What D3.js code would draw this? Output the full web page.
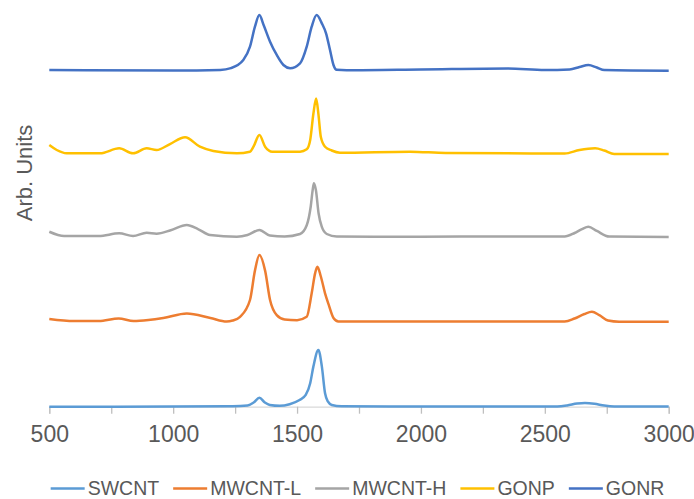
<!DOCTYPE html>
<html>
<head>
<meta charset="utf-8">
<script src="https://cdn.jsdelivr.net/npm/d3@7"></script>
<style>
  body { margin: 0; background: #fff; }
  text { font-family: "Liberation Sans", Arial, sans-serif; fill: #595959; }
</style>
</head>
<body>
<svg id="chart" width="694" height="499"></svg>
<script>
// raman spectra, [wavenumber, intensity] (intensity in arb. units)
const swcnt = [[500,0],[1000,0.002],[1240,0.005],[1300,0.015],[1325,0.05],[1348,0.107],[1370,0.05],[1390,0.02],[1430,0.01],
  [1470,0.03],[1510,0.08],[1535,0.14],[1553,0.28],[1566,0.48],[1586,0.675],[1600,0.48],[1613,0.16],[1625,0.06],[1640,0.02],
  [1680,0.005],[2000,0.002],[2550,0.002],[2590,0.014],[2630,0.037],[2662,0.045],[2700,0.036],[2740,0.013],[2780,0.002],[3000,0.002]];

const mwcntL = [[500,0.044],[600,0.02],[700,0.02],[780,0.05],[840,0.02],[900,0.032],[960,0.056],[1055,0.11],[1150,0.056],
  [1216,0.014],[1240,0.026],[1270,0.07],[1310,0.27],[1330,0.62],[1348,0.806],[1371,0.62],[1391,0.27],[1418,0.09],[1450,0.038],
  [1500,0.03],[1539,0.07],[1559,0.35],[1573,0.59],[1582,0.667],[1596,0.55],[1613,0.35],[1627,0.22],[1647,0.056],[1667,0.014],
  [2000,0.014],[2300,0.014],[2580,0.014],[2620,0.05],[2660,0.104],[2690,0.13],[2720,0.09],[2755,0.026],[2800,0.012],[3000,0.012]];

const mwcntH = [[500,0.083],[560,0.032],[700,0.032],[782,0.064],[838,0.032],[893,0.071],[933,0.06],[990,0.1],[1055,0.163],
  [1100,0.115],[1149,0.044],[1257,0.024],[1300,0.044],[1348,0.104],[1390,0.038],[1450,0.026],[1512,0.056],[1539,0.16],
  [1555,0.38],[1563,0.58],[1568,0.66],[1576,0.58],[1587,0.3],[1600,0.14],[1620,0.056],[1660,0.026],[2000,0.024],[2326,0.026],
  [2580,0.026],[2620,0.068],[2650,0.115],[2676,0.143],[2710,0.092],[2760,0.026],[3000,0.02]];

const gonp = [[500,0.115],[530,0.056],[570,0.017],[705,0.017],[782,0.076],[838,0.017],[893,0.076],[933,0.056],[987,0.127],
  [1048,0.207],[1108,0.095],[1162,0.044],[1257,0.017],[1310,0.036],[1324,0.095],[1348,0.235],[1371,0.095],[1400,0.036],
  [1512,0.036],[1539,0.064],[1553,0.175],[1566,0.49],[1577,0.67],[1586,0.49],[1596,0.21],[1613,0.095],[1640,0.05],
  [1673,0.024],[1956,0.036],[2100,0.02],[2580,0.014],[2640,0.056],[2703,0.076],[2740,0.05],[2780,0.008],[3000,0.008]];

const gonr = [[500,0.008],[1000,0.002],[1190,0.008],[1233,0.03],[1283,0.127],[1310,0.286],[1330,0.524],[1348,0.663],
  [1365,0.544],[1391,0.345],[1418,0.187],[1445,0.068],[1472,0.03],[1512,0.088],[1539,0.286],[1559,0.524],[1579,0.663],
  [1600,0.564],[1617,0.445],[1633,0.246],[1647,0.068],[1660,0.01],[1700,0.005],[2000,0.014],[2350,0.026],[2500,0.008],
  [2600,0.014],[2640,0.044],[2676,0.068],[2710,0.038],[2740,0.008],[3000,0.0]];

const seriesNames = ["SWCNT", "MWCNT-L", "MWCNT-H", "GONP", "GONR"];
const seriesData = [swcnt, mwcntL, mwcntH, gonp, gonr];
const offsets = [0, 1, 2, 3, 4];
const colors = ["#5B9BD5", "#ED7D31", "#A5A5A5", "#FFC000", "#4472C4"];
const xTicks = [500, 750, 1000, 1250, 1500, 1750, 2000, 2250, 2500, 2750, 3000];
const yTitle = "Arb. Units";

const svg = d3.select("#chart");
const x = d3.scaleLinear().domain([500, 3000]).range([49.3, 668.7]);
const y = d3.scaleLinear().domain([0, 5]).range([406.7, -13.3]);

// x axis (labels every 500)
let xAxis = svg.append("g")
  .attr("transform", "translate(0," + y(0) + ")")
  .call(d3.axisBottom(x).tickValues(xTicks).tickSizeOuter(0).tickSize(7)
    .tickFormat(d => d % 500 === 0 ? d : ""));
xAxis.select(".domain").attr("stroke", "#D9D9D9").attr("stroke-width", 1.3);
xAxis.selectAll(".tick line").attr("stroke", "#BFBFBF").attr("stroke-width", 1.3);
xAxis.selectAll(".tick text")
  .attr("fill", "#595959")
  .attr("y", 19)
  .style("font-size", "23px")
  .style("font-family", "\"Liberation Sans\", Arial, sans-serif");

// y title
svg.append("text")
  .attr("transform", "translate(32,173) rotate(-90)")
  .attr("text-anchor", "middle")
  .style("font-size", "22px")
  .text(yTitle);

// series
let line = d3.line().curve(d3.curveMonotoneX);
seriesData.forEach(function(data, i){
  svg.append("path")
    .datum(data)
    .attr("fill", "none")
    .attr("stroke", colors[i])
    .attr("stroke-width", 2.5)
    .attr("stroke-linejoin", "round")
    .attr("d", line.x(d => x(d[0])).y(d => y(d[1] + offsets[i])));
});

// legend
let legend = svg.append("g");
let items = legend.selectAll("g").data(seriesNames).enter().append("g");
items.append("line")
  .attr("x1", 0).attr("x2", 34).attr("y1", 0).attr("y2", 0)
  .attr("stroke", (d, i) => colors[i])
  .attr("stroke-width", 2.5);
items.append("text")
  .attr("x", 37).attr("y", 6.5)
  .style("font-size", "19.5px")
  .text(d => d);
let pos = 0;
items.each(function(){
  let w = d3.select(this).select("text").node().getComputedTextLength();
  d3.select(this).attr("transform", "translate(" + pos + ",0)");
  pos += 37 + w + 14;
});
pos -= 14;
legend.attr("transform", "translate(" + (357.5 - pos / 2) + ",488.5)");
</script>
</body>
</html>
